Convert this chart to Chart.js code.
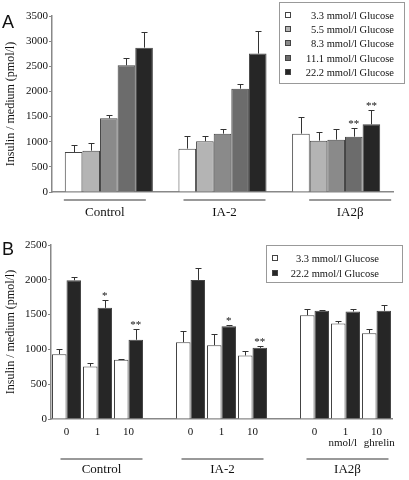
<!DOCTYPE html>
<html>
<head>
<meta charset="utf-8">
<script src="https://cdn.jsdelivr.net/npm/chart.js@4"></script>
<style>
body { margin: 0; background: #fff; }
canvas { position: absolute; left: 0; }
#chart-a { top: 0; }
#chart-b { top: 232px; }
</style>
</head>
<body>
<canvas id="chart-a" width="409" height="232"></canvas>
<canvas id="chart-b" width="409" height="248"></canvas>
<script>
// panel A: five glucose levels per group
const groupsA = ['Control', 'IA-2', 'IA2β'];
const glucoseA = ['3.3 mmol/l Glucose', '5.5 mmol/l Glucose', '8.3 mmol/l Glucose', '11.1 mmol/l Glucose', '22.2 mmol/l Glucose'];
const meanA33 = [795, 862, 1160];
const meanA55 = [822, 1010, 1021];
const meanA83 = [1465, 1160, 1041];
const meanA111 = [2520, 2055, 1100];
const meanA222 = [2871, 2752, 1346];
const errA33 = [133, 252, 332];
const errA55 = [159, 100, 179];
const errA83 = [60, 100, 205];
const errA111 = [139, 100, 166];
const errA222 = [312, 457, 278];
const marksA111 = ['', '', '**'];
const marksA222 = ['', '', '**'];
const ticksA = [0, 500, 1000, 1500, 2000, 2500, 3000, 3500];

// panel B: ghrelin doses, low vs high glucose
const groupsB = ['Control', 'IA-2', 'IA2β'];
const dosesB = ['0', '1', '10', '', '0', '1', '10', '', '0', ['1', 'nmol/l\u00a0\u00a0'], ['10', '\u00a0\u00a0ghrelin']];
const glucoseB = ['3.3 mmol/l Glucose', '22.2 mmol/l Glucose'];
const meanB33 = [932, 755, 851, null, 1104, 1061, 913, null, 1491, 1372, 1233];
const meanB222 = [1993, 1597, 1138, null, 1998, 1334, 1023, null, 1554, 1544, 1554];
const errB33 = [77, 53, 9, null, 163, 158, 67, null, 91, 38, 62];
const errB222 = [43, 109, 153, null, 167, 14, 33, null, 14, 43, 81];
const marksB222 = ['', '*', '**', '', '', '*', '**', '', '', '', ''];
const ticksB = [0, 500, 1000, 1500, 2000, 2500];

Chart.defaults.font.family = '"Liberation Serif", serif';
Chart.defaults.color = '#111';

const errorBars = {
	id: 'errorBars',
	afterDatasetsDraw(chart) {
		const ctx = chart.ctx, y = chart.scales.y;
		ctx.save();
		ctx.strokeStyle = '#333';
		ctx.lineWidth = 1;
		ctx.fillStyle = '#111';
		ctx.font = '11px "Liberation Serif"';
		ctx.textAlign = 'center';
		ctx.textBaseline = 'alphabetic';
		chart.data.datasets.forEach((ds, i) => {
			chart.getDatasetMeta(i).data.forEach((bar, j) => {
				const v = ds.data[j];
				if (v == null) return;
				const top = Math.round(y.getPixelForValue(v + ds.errors[j])) + 0.5;
				const x = Math.round(bar.x) + 0.5;
				ctx.beginPath();
				ctx.moveTo(x, bar.y);
				ctx.lineTo(x, top);
				ctx.moveTo(x - 3, top);
				ctx.lineTo(x + 3, top);
				ctx.stroke();
				const mark = ds.marks && ds.marks[j];
				if (mark) ctx.fillText(mark, bar.x, top - 2);
			});
		});
		ctx.restore();
	}
};

const boxLegend = {
	id: 'boxLegend',
	afterDraw(chart, args, o) {
		const ctx = chart.ctx;
		ctx.save();
		ctx.strokeStyle = '#999';
		ctx.lineWidth = 1;
		ctx.strokeRect(o.x + 0.5, o.y + 0.5, o.w, o.h);
		ctx.font = '10.5px "Liberation Serif"';
		ctx.textAlign = 'right';
		ctx.textBaseline = 'middle';
		chart.data.datasets.forEach((ds, i) => {
			const cy = Math.round(o.firstRow + i * o.rowGap);
			ctx.fillStyle = ds.backgroundColor;
			ctx.fillRect(o.swatchX, cy - 3, 6, 6);
			ctx.strokeStyle = '#444';
			ctx.strokeRect(o.swatchX + 0.5, cy - 2.5, 5, 5);
			ctx.fillStyle = '#111';
			ctx.fillText(ds.label, o.textRight, cy + 1);
		});
		ctx.restore();
	}
};

const groupLines = {
	id: 'groupLines',
	afterDraw(chart, args, o) {
		const ctx = chart.ctx, x = chart.scales.x;
		ctx.save();
		o.labels.forEach((name, g) => {
			const span = o.spans[g];
			const c = (x.getPixelForValue(span[0]) + x.getPixelForValue(span[1])) / 2 + o.shift[g];
			ctx.strokeStyle = '#777';
			ctx.lineWidth = 1.5;
			ctx.beginPath();
			ctx.moveTo(c - 41, o.lineY);
			ctx.lineTo(c + 41, o.lineY);
			ctx.stroke();
			ctx.fillStyle = '#111';
			ctx.font = '13px "Liberation Serif"';
			ctx.textAlign = 'center';
			ctx.textBaseline = 'middle';
			ctx.fillText(name, c, o.textY);
		});
		ctx.font = '18px "Liberation Sans"';
		ctx.textAlign = 'left';
		ctx.textBaseline = 'alphabetic';
		ctx.fillText(o.letter, 2, o.letterY);
		ctx.restore();
	}
};

function yAxis(max, ticks, width) {
	return {
		min: 0,
		max: max,
		afterFit: s => { s.width = width; },
		afterBuildTicks: s => { s.ticks = ticks.map(v => ({ value: v })); },
		grid: { display: true, drawOnChartArea: false, drawTicks: true, tickLength: 3, color: '#888' },
		border: { color: '#888', width: 1.5 },
		ticks: { padding: 1, font: { size: 11 }, color: '#111', callback: v => String(v) },
		title: {
			display: true,
			text: 'Insulin / medium (pmol/l)',
			font: { size: 12 },
			padding: { top: 4, bottom: 0 }
		}
	};
}

function bars(label, color, values, errors, marks) {
	return {
		label: label,
		data: values,
		errors: errors,
		marks: marks,
		backgroundColor: color,
		borderColor: '#444',
		borderWidth: 1,
		borderSkipped: 'bottom'
	};
}

const configA = {
	type: 'bar',
	data: {
		labels: groupsA,
		datasets: [
			bars(glucoseA[0], '#ffffff', meanA33, errA33),
			bars(glucoseA[1], '#b4b4b4', meanA55, errA55),
			bars(glucoseA[2], '#8a8a8a', meanA83, errA83),
			bars(glucoseA[3], '#6c6c6c', meanA111, errA111, marksA111),
			bars(glucoseA[4], '#262626', meanA222, errA222, marksA222),
		]
	},
	options: {
		responsive: false,
		animation: false,
		layout: { padding: { top: 16, right: 16, left: 0, bottom: 0 } },
		datasets: { bar: { categoryPercentage: 0.775, barPercentage: 1 } },
		plugins: {
			legend: { display: false },
			tooltip: { enabled: false },
			boxLegend: { x: 279, y: 2, w: 125, h: 81, firstRow: 15, rowGap: 14.2, swatchX: 285, textRight: 394 },
			groupLines: { labels: groupsA, spans: [[0, 0], [1, 1], [2, 2]], shift: [-4, 2, 14], lineY: 200, textY: 213, letter: 'A', letterY: 28 }
		},
		scales: {
			x: {
				afterFit: s => { s.height = 40; },
				grid: { display: false },
				border: { color: '#888', width: 1.5 },
				ticks: { display: false }
			},
			y: yAxis(3500, ticksA, 52)
		}
	},
	plugins: [errorBars, boxLegend, groupLines]
};

const configB = {
	type: 'bar',
	data: {
		labels: dosesB,
		datasets: [
			bars(glucoseB[0], '#ffffff', meanB33, errB33),
			bars(glucoseB[1], '#262626', meanB222, errB222, marksB222),
		]
	},
	options: {
		responsive: false,
		animation: false,
		layout: { padding: { top: 13, right: 17, left: 0, bottom: 0 } },
		datasets: { bar: { categoryPercentage: 0.935, barPercentage: 1 } },
		plugins: {
			legend: { display: false },
			tooltip: { enabled: false },
			boxLegend: { x: 266, y: 13, w: 136, h: 37, firstRow: 25.5, rowGap: 15, swatchX: 272, textRight: 379 },
			groupLines: { labels: groupsB, spans: [[0, 2], [4, 6], [8, 10]], shift: [4, 1, 2], lineY: 227, textY: 238, letter: 'B', letterY: 23 }
		},
		scales: {
			x: {
				afterFit: s => { s.height = 61; },
				grid: { display: false },
				border: { color: '#888', width: 1.5 },
				ticks: { padding: 0, font: { size: 11, lineHeight: 1 }, color: '#111', maxRotation: 0, autoSkip: false }
			},
			y: yAxis(2500, ticksB, 51)
		}
	},
	plugins: [errorBars, boxLegend, groupLines]
};

document.addEventListener('DOMContentLoaded', () => {
	new Chart(document.getElementById('chart-a'), configA);
	new Chart(document.getElementById('chart-b'), configB);
});
</script>
</body>
</html>
